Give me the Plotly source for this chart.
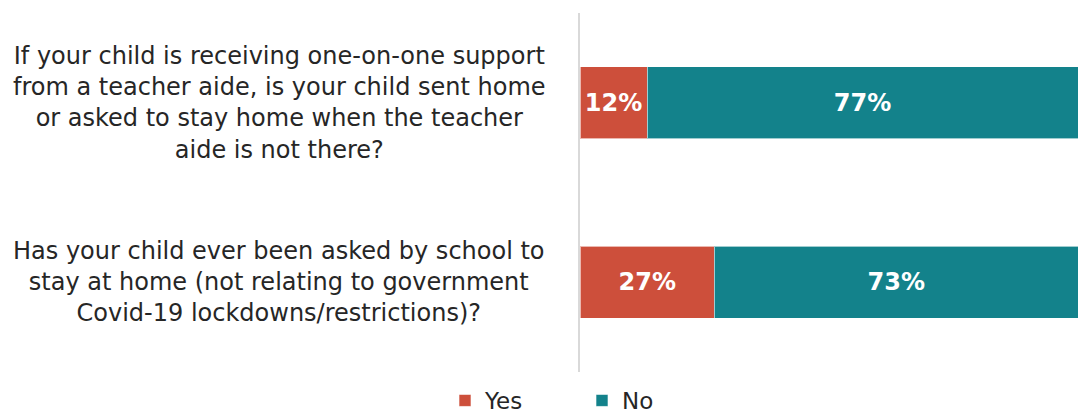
import plotly.graph_objects as go

categories = [
    "If your child is receiving one-on-one support<br>from a teacher aide, is your child sent home<br>or asked to stay home when the teacher<br>aide is not there?",
    "Has your child ever been asked by school to<br>stay at home (not relating to government<br>Covid-19 lockdowns/restrictions)?",
]
yes_vals = [12, 27]
no_vals = [77, 73]
series_names = ["Yes", "No"]
colors = ["#CD4F3B", "#13828B"]

FONT = "DejaVu Sans, Verdana, sans-serif"

fig = go.Figure()
for name, vals, col in zip(series_names, [yes_vals, no_vals], colors):
    fig.add_trace(go.Bar(
        y=categories, x=vals, name=name, orientation="h",
        marker=dict(color=col, line=dict(color="rgba(255,255,255,0.6)", width=1)),
        text=[f"{v}%" for v in vals], textposition="inside", insidetextanchor="middle",
        textfont=dict(family=FONT, size=24, color="white", weight="bold"),
        hoverinfo="skip",
    ))

for c in categories:
    fig.add_annotation(
        x=-0.604, xref="paper", y=c, yref="y", text=c, showarrow=False,
        xanchor="center", yanchor="middle", align="center",
        font=dict(family=FONT, size=24, color="#262626"),
    )

fig.update_layout(
    width=1078, height=417,
    margin=dict(l=580, r=0, t=13, b=45, autoexpand=False),
    barmode="stack", barnorm="percent", bargap=0.6,
    plot_bgcolor="white", paper_bgcolor="white",
    showlegend=True,
    legend=dict(orientation="h", xref="container", x=445 / 1078, xanchor="left",
                yref="container", y=1 - 379 / 417, yanchor="top",
                font=dict(family=FONT, size=23, color="#262626"),
                entrywidth=92, entrywidthmode="pixels", traceorder="normal"),
    xaxis=dict(visible=False, range=[0, 100], fixedrange=True),
    yaxis=dict(autorange="reversed", showticklabels=False, showline=True,
               linecolor="#d9d9d9", linewidth=2, showgrid=False, zeroline=False,
               ticks=""),
    uniformtext=dict(mode="show", minsize=10),
)

fig.write_html("out.html")
